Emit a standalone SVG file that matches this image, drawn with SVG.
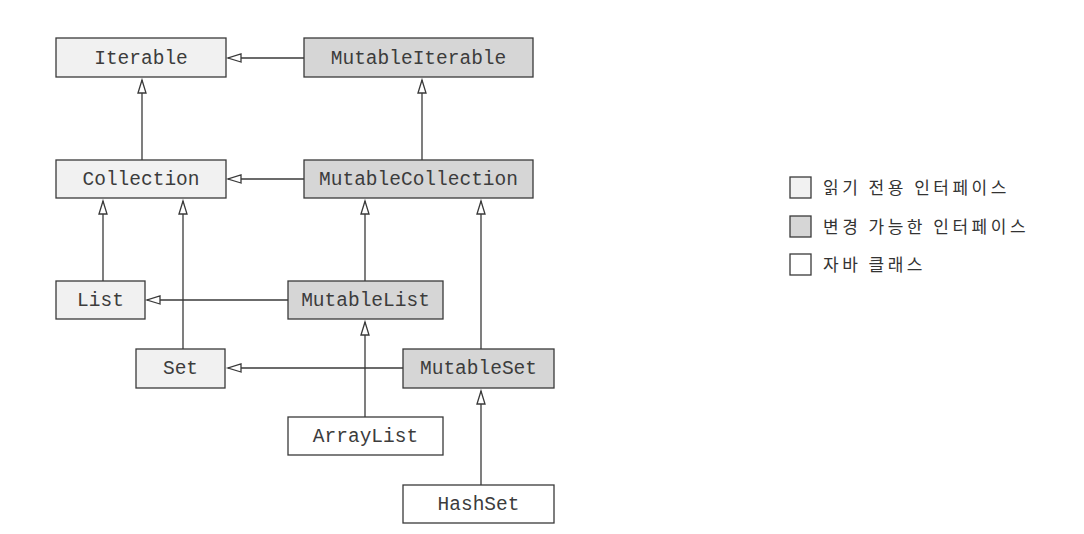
<svg xmlns="http://www.w3.org/2000/svg" width="1084" height="534" viewBox="0 0 1084 534">
<style>
.box{stroke:#3a3a3a;stroke-width:1.3}
.ro{fill:#f1f1f1}
.mu{fill:#d6d6d6}
.jc{fill:#ffffff}
.lbl{font-family:"Liberation Mono","Courier New",monospace;font-size:19.5px;fill:#3c3c3c;text-anchor:middle}
.edge{stroke:#3a3a3a;stroke-width:1.3;fill:none;marker-end:url(#tri)}
.leg{font-family:"Noto Sans CJK KR","Noto Sans",sans-serif;font-size:17px;fill:#333;letter-spacing:3.5px}
</style>
<defs>
<marker id="tri" markerUnits="userSpaceOnUse" markerWidth="16" markerHeight="12" viewBox="-1 -6 16 12" refX="13" refY="0" orient="auto" overflow="visible">
<path d="M0,-4 L13,0 L0,4 Z" fill="#fff" stroke="#3a3a3a" stroke-width="1.3"/>
</marker>
</defs>
<rect width="1084" height="534" fill="#fff"/>
<g id="connectors">
<line class="edge" x1="304" y1="58" x2="228" y2="58"/>
<line class="edge" x1="142" y1="160" x2="142" y2="80"/>
<line class="edge" x1="422" y1="160" x2="422" y2="80"/>
<line class="edge" x1="304" y1="179" x2="228" y2="179"/>
<line class="edge" x1="103" y1="281" x2="103" y2="201"/>
<line class="edge" x1="183" y1="349" x2="183" y2="201"/>
<line class="edge" x1="365" y1="281" x2="365" y2="201"/>
<line class="edge" x1="481" y1="349" x2="481" y2="201"/>
<line class="edge" x1="288" y1="300" x2="147" y2="300"/>
<line class="edge" x1="403" y1="368" x2="228" y2="368"/>
<line class="edge" x1="365" y1="417" x2="365" y2="322"/>
<line class="edge" x1="481" y1="485" x2="481" y2="391"/>
</g>
<g id="Iterable"><rect class="box ro" x="56" y="38" width="170" height="39"/><text class="lbl" x="141" y="64">Iterable</text></g>
<g id="MutableIterable"><rect class="box mu" x="304" y="38" width="229" height="39"/><text class="lbl" x="418.5" y="64">MutableIterable</text></g>
<g id="Collection"><rect class="box ro" x="56" y="160" width="170" height="38"/><text class="lbl" x="141" y="185">Collection</text></g>
<g id="MutableCollection"><rect class="box mu" x="304" y="160" width="229" height="38"/><text class="lbl" x="418.5" y="185">MutableCollection</text></g>
<g id="List"><rect class="box ro" x="56" y="281" width="89" height="38"/><text class="lbl" x="100.5" y="306">List</text></g>
<g id="MutableList"><rect class="box mu" x="288" y="281" width="155" height="38"/><text class="lbl" x="365.5" y="306">MutableList</text></g>
<g id="Set"><rect class="box ro" x="136" y="349" width="89" height="39"/><text class="lbl" x="180.5" y="374">Set</text></g>
<g id="MutableSet"><rect class="box mu" x="403" y="349" width="151" height="39"/><text class="lbl" x="478.5" y="374">MutableSet</text></g>
<g id="ArrayList"><rect class="box jc" x="288" y="417" width="155" height="38"/><text class="lbl" x="365.5" y="442">ArrayList</text></g>
<g id="HashSet"><rect class="box jc" x="403" y="485" width="151" height="38"/><text class="lbl" x="478.5" y="510">HashSet</text></g>
<g id="legend">
<rect class="box ro" x="790" y="177" width="21" height="21"/><text class="leg" x="823" y="194">읽기 전용 인터페이스</text>
<rect class="box mu" x="790" y="216" width="21" height="21"/><text class="leg" x="823" y="233">변경 가능한 인터페이스</text>
<rect class="box jc" x="790" y="254" width="21" height="21"/><text class="leg" x="823" y="271">자바 클래스</text>
</g>
</svg>
